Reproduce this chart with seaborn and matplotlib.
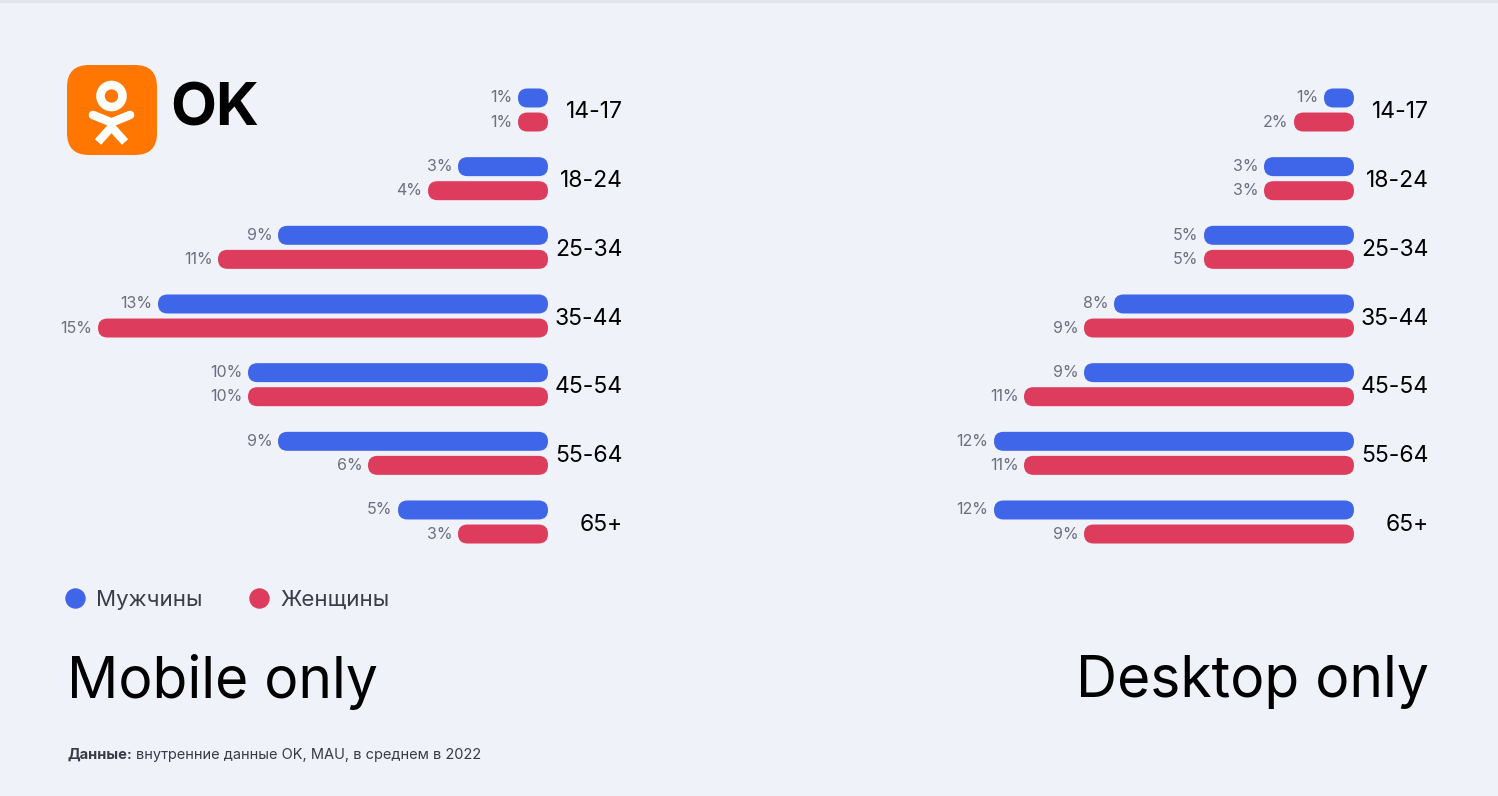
import matplotlib
matplotlib.use("Agg")
import matplotlib.pyplot as plt
import seaborn as sns
import pandas as pd
from matplotlib.patches import FancyBboxPatch, Circle, Rectangle
from matplotlib.lines import Line2D


# данные
ages = ["14-17", "18-24", "25-34", "35-44", "45-54", "55-64", "65+"]
sexes = ["Мужчины", "Женщины"]
mobile_men = [1, 3, 9, 13, 10, 9, 5]
mobile_women = [1, 4, 11, 15, 10, 6, 3]
desktop_men = [1, 3, 5, 8, 9, 12, 12]
desktop_women = [2, 3, 5, 9, 11, 11, 9]

BG = "#EFF2F9"
BLUE = "#3F65E8"
RED = "#DE3C5C"
W, H = 1498, 796

sns.set_style("white")
plt.rcParams["font.family"] = ["Inter", "DejaVu Sans"]


def make_df(men, women):
    return pd.DataFrame({
        "age": ages * 2,
        "sex": [sexes[0]] * len(ages) + [sexes[1]] * len(ages),
        "value": men + women,
    })


def px_rect(left, top, width, height):
    # пиксели -> координаты фигуры
    return [left / W, 1 - (top + height) / H, width / W, height / H]


def round_bars(ax, aspect):
    for p in list(ax.patches):
        x, y = p.get_x(), p.get_y()
        w, h = p.get_width(), p.get_height()
        fc = p.get_facecolor()
        p.remove()
        r = h / 2 / aspect * 0.999
        ax.add_patch(FancyBboxPatch((x, y), w, h,
                                    boxstyle=f"round,pad=0,rounding_size={r}",
                                    mutation_aspect=aspect, fc=fc, ec="none"))


fig = plt.figure(figsize=(W / 100, H / 100), dpi=100, facecolor=BG)

# тень сверху
fig.add_artist(Rectangle((0, 1 - 3 / H), 1, 3 / H, transform=fig.transFigure,
                         color="#E1E4EC", lw=0))

step = (522 - 110) / 6
top = 110 - 0.6 * step
height = 7.2 * step
px_per_pct = 30
ax_w = 500
xmax = ax_w / px_per_pct

panels = [(548, mobile_men, mobile_women), (1354, desktop_men, desktop_women)]
for right, men, women in panels:
    ax = fig.add_axes(px_rect(right - ax_w, top, ax_w, height))
    ax.set_facecolor("none")
    sns.barplot(data=make_df(men, women), x="value", y="age", hue="sex",
                hue_order=sexes, order=ages, orient="h",
                palette={sexes[0]: BLUE, sexes[1]: RED}, saturation=1,
                width=0.7, gap=0.21, errorbar=None, legend=False, ax=ax)
    ax.set_xlim(xmax, 0)
    ax.set_ylim(6.6, -0.6)
    for c in ax.containers:
        ax.bar_label(c, fmt="{:.0f}%", padding=4, fontsize=11.5, color="#6E6E80")
    round_bars(ax, px_per_pct / step)
    ax.yaxis.tick_right()
    ax.set_yticks(range(len(ages)))
    ax.set_yticklabels(ages, ha="right", fontsize=16.5, color="black")
    ax.tick_params(axis="y", length=0, pad=54)
    ax.set_xticks([])
    ax.set_xlabel("")
    ax.set_ylabel("")
    sns.despine(ax=ax, left=True, bottom=True, right=True, top=True)

# логотип OK
lax = fig.add_axes(px_rect(67, 65, 90, 90))
lax.set_xlim(0, 90)
lax.set_ylim(90, 0)
lax.axis("off")
lax.add_patch(FancyBboxPatch((0, 0), 90, 90, boxstyle="round,pad=0,rounding_size=22",
                             fc="#FF7700", ec="none"))
lax.add_patch(Circle((44.5, 31), 11, fc="none", ec="white", lw=6.2))
lax.add_line(Line2D([26, 44.5, 63], [50, 57.5, 50], color="white", lw=6.2,
                    solid_capstyle="round", solid_joinstyle="miter"))
lax.add_line(Line2D([31, 44.5, 58], [77, 62, 77], color="white", lw=6.0,
                    solid_capstyle="butt", solid_joinstyle="miter"))
fig.text(170 / W, 1 - 110 / H, "OK", fontsize=43, fontweight="bold",
         color="black", va="center", ha="left")

# легенда
handles = [Line2D([], [], marker="o", ls="", color=c, markersize=13.7) for c in (BLUE, RED)]
fig.legend(handles, sexes, loc="center left", bbox_to_anchor=(65 / W, 1 - 600 / H),
           ncol=2, frameon=False, fontsize=16, labelcolor="#3C3C4A",
           handlelength=0.9, handletextpad=0.5, columnspacing=2.1,
           borderaxespad=0, borderpad=0)

# заголовки
fig.text(67 / W, 1 - 682 / H, "Mobile only", fontsize=41, color="black",
         va="center", ha="left")
fig.text(1429 / W, 1 - 682 / H, "Desktop only", fontsize=41, color="black",
         va="center", ha="right")

# подпись
t = fig.text(67 / W, 1 - 755 / H, "Данные:", fontsize=10.5, fontweight="bold",
             color="#3A3A48", va="center", ha="left")
renderer = fig.canvas.get_renderer()
bb = t.get_window_extent(renderer)
fig.text((bb.x1 + 4) / W, 1 - 755 / H, "внутренние данные OK, MAU, в среднем в 2022",
         fontsize=10.5, color="#3A3A48", va="center", ha="left")

fig.savefig("out.png", dpi=100, facecolor=BG)
